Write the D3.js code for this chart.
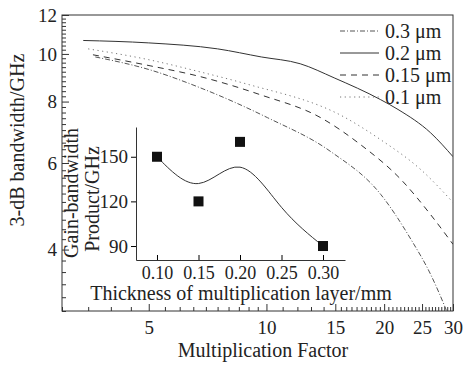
<!DOCTYPE html>
<html lang="en">
<head>
<meta charset="utf-8">
<script src="https://d3js.org/d3.v7.min.js"></script>
<style>
  body { margin: 0; background: #fff; }
  svg text { font-family: "Liberation Serif", "Times New Roman", serif; fill: #222; }
</style>
</head>
<body>
<div id="chart"></div>
<script>
// main curves: multiplication factor vs 3-dB bandwidth (GHz)
const m020 = [3.4, 5.0, 7.5, 9.7, 12.2, 14.9, 19.6, 21.7, 26.3, 30];
const bw020 = [10.65, 10.53, 10.24, 9.86, 9.55, 8.94, 8.07, 7.71, 6.91, 6.18];
const m010 = [3.5, 5.04, 6.78, 8.84, 15.76, 19.6, 24.8, 30];
const bw010 = [10.24, 9.72, 9.19, 8.7, 7.45, 6.69, 5.82, 4.99];
const m015 = [3.6, 5.04, 6.78, 9.65, 13.76, 17.4, 22.1, 26.3, 30];
const bw015 = [9.96, 9.46, 8.99, 8.26, 7.42, 6.54, 5.55, 4.71, 4.1];
const m030 = [3.65, 5.04, 6.78, 10.06, 14.6, 19.6, 23.4, 26.3, 28.8, 29.5];
const bw030 = [9.86, 9.28, 8.53, 7.42, 6.33, 5.18, 4.2, 3.56, 3.02, 2.88];

const legendLabels = ["0.3 \u03bcm", "0.2 \u03bcm", "0.15 \u03bcm", "0.1 \u03bcm"];

const xMajor = [5, 10, 15, 20, 25, 30];
const yMajor = [4, 6, 8, 10, 12];

// inset: thickness vs gain-bandwidth product
const thick = [0.10, 0.15, 0.20, 0.30];
const gbp = [150, 120, 160, 90];
const fitT = [0.10, 0.15, 0.20, 0.25, 0.30];
const fitG = [150, 132, 143, 116, 90];
const insetXTicks = [0.10, 0.15, 0.20, 0.25, 0.30];
const insetYTicks = [90, 120, 150];

const width = 464, height = 365;
const margin = {top: 15, right: 11, bottom: 54, left: 62};

const svg = d3.select("#chart").append("svg")
    .attr("width", width)
    .attr("height", height);

const x = d3.scaleLog().domain([3, 30]).range([margin.left, width - margin.right]);
const y = d3.scaleLog().domain([3, 12]).range([height - margin.bottom, margin.top]);

// minor ticks
const xMinor = d3.range(3, 10, 0.5).concat(d3.range(10, 15, 1), d3.range(15, 30, 0.5))
    .filter(v => !xMajor.includes(v));
const yMinor = d3.range(3, 12.01, 0.2).map(v => +v.toFixed(1))
    .filter(v => !yMajor.includes(v));

const fmt = d3.format("d");

svg.append("g")
    .attr("transform", `translate(0,${height - margin.bottom})`)
    .call(d3.axisBottom(x).tickValues(xMinor).tickSize(-4).tickFormat(""))
    .call(g => g.select(".domain").remove());
svg.append("g")
    .attr("transform", `translate(0,${height - margin.bottom})`)
    .call(d3.axisBottom(x).tickValues(xMajor).tickSize(-7).tickPadding(6).tickFormat(fmt))
    .call(g => g.select(".domain").remove())
    .call(g => g.selectAll("text").attr("font-size", 19).attr("dy", "0.9em"));

svg.append("g")
    .attr("transform", `translate(${margin.left},0)`)
    .call(d3.axisLeft(y).tickValues(yMinor).tickSize(-4).tickFormat(""))
    .call(g => g.select(".domain").remove());
svg.append("g")
    .attr("transform", `translate(${margin.left},0)`)
    .call(d3.axisLeft(y).tickValues(yMajor).tickSize(-7).tickPadding(5).tickFormat(fmt))
    .call(g => g.select(".domain").remove())
    .call(g => g.selectAll("text").attr("font-size", 19));

svg.selectAll(".tick line").attr("stroke", "#333");

// frame
svg.append("rect")
    .attr("x", margin.left)
    .attr("y", margin.top)
    .attr("width", width - margin.right - margin.left)
    .attr("height", height - margin.bottom - margin.top)
    .attr("fill", "none")
    .attr("stroke", "#333");

svg.append("clipPath").attr("id", "clip")
  .append("rect")
    .attr("x", margin.left)
    .attr("y", margin.top)
    .attr("width", width - margin.right - margin.left)
    .attr("height", height - margin.bottom - margin.top);

const series = [
  {m: m030, bw: bw030, dash: "5,2,1,2", color: "#555"},
  {m: m020, bw: bw020, dash: null, color: "#333"},
  {m: m015, bw: bw015, dash: "6,5", color: "#333"},
  {m: m010, bw: bw010, dash: "1.2,3.5", color: "#777"}
];

const line = d3.line()
    .x(d => x(d[0]))
    .y(d => y(d[1]))
    .curve(d3.curveMonotoneX);

svg.append("g")
    .attr("clip-path", "url(#clip)")
  .selectAll("path")
  .data(series)
  .join("path")
    .attr("d", s => line(d3.zip(s.m, s.bw)))
    .attr("fill", "none")
    .attr("stroke", s => s.color)
    .attr("stroke-width", 1)
    .attr("stroke-dasharray", s => s.dash);

// legend
const legend = svg.append("g")
  .selectAll("g")
  .data(series)
  .join("g")
    .attr("transform", (d, i) => `translate(340,${31 + i * 22})`);

legend.append("line")
    .attr("x1", 0).attr("x2", 39)
    .attr("stroke", s => s.color)
    .attr("stroke-dasharray", s => s.dash);

legend.append("text")
    .attr("x", 45)
    .attr("dy", "0.33em")
    .attr("font-size", 20)
    .text((d, i) => legendLabels[i]);

// axis titles
svg.append("text")
    .attr("x", 263)
    .attr("y", 357)
    .attr("text-anchor", "middle")
    .attr("font-size", 20)
    .text("Multiplication Factor");

svg.append("text")
    .attr("transform", "translate(24,140) rotate(-90)")
    .attr("text-anchor", "middle")
    .attr("font-size", 20)
    .text("3-dB bandwidth/GHz");

// inset
const ix = d3.scaleLinear().domain([0.0747, 0.3265]).range([136, 345]);
const iy = d3.scaleLinear().domain([80.6, 170]).range([260, 127]);

svg.append("g")
    .attr("transform", "translate(0,260)")
    .call(d3.axisBottom(ix).tickValues(insetXTicks).tickSizeInner(-5).tickSizeOuter(0)
      .tickPadding(5).tickFormat(d3.format(".2f")))
    .call(g => g.selectAll("text").attr("font-size", 18).attr("dy", "0.75em"));

svg.append("g")
    .attr("transform", "translate(136,0)")
    .call(d3.axisLeft(iy).tickValues(insetYTicks).tickSizeInner(5).tickSizeOuter(0)
      .tickPadding(3).tickFormat(fmt))
    .call(g => g.selectAll("text").attr("font-size", 19));

svg.selectAll(".domain").attr("stroke", "#333");

svg.append("path")
    .datum(d3.zip(fitT, fitG))
    .attr("d", d3.line().x(d => ix(d[0])).y(d => iy(d[1])).curve(d3.curveNatural))
    .attr("fill", "none")
    .attr("stroke", "#333")
    .attr("stroke-width", 1);

svg.append("g")
  .selectAll("rect")
  .data(d3.zip(thick, gbp))
  .join("rect")
    .attr("x", d => ix(d[0]) - 5)
    .attr("y", d => iy(d[1]) - 5)
    .attr("width", 10)
    .attr("height", 10)
    .attr("fill", "#111");

svg.append("text")
    .attr("x", 241)
    .attr("y", 300)
    .attr("text-anchor", "middle")
    .attr("font-size", 20)
    .text("Thickness of multiplication layer/mm");

svg.append("text")
    .attr("transform", "translate(78,193) rotate(-90)")
    .attr("text-anchor", "middle")
    .attr("font-size", 20)
    .text("Gain-bandwidth");

svg.append("text")
    .attr("transform", "translate(99,199) rotate(-90)")
    .attr("text-anchor", "middle")
    .attr("font-size", 20)
    .text("Product/GHz");
</script>
</body>
</html>
